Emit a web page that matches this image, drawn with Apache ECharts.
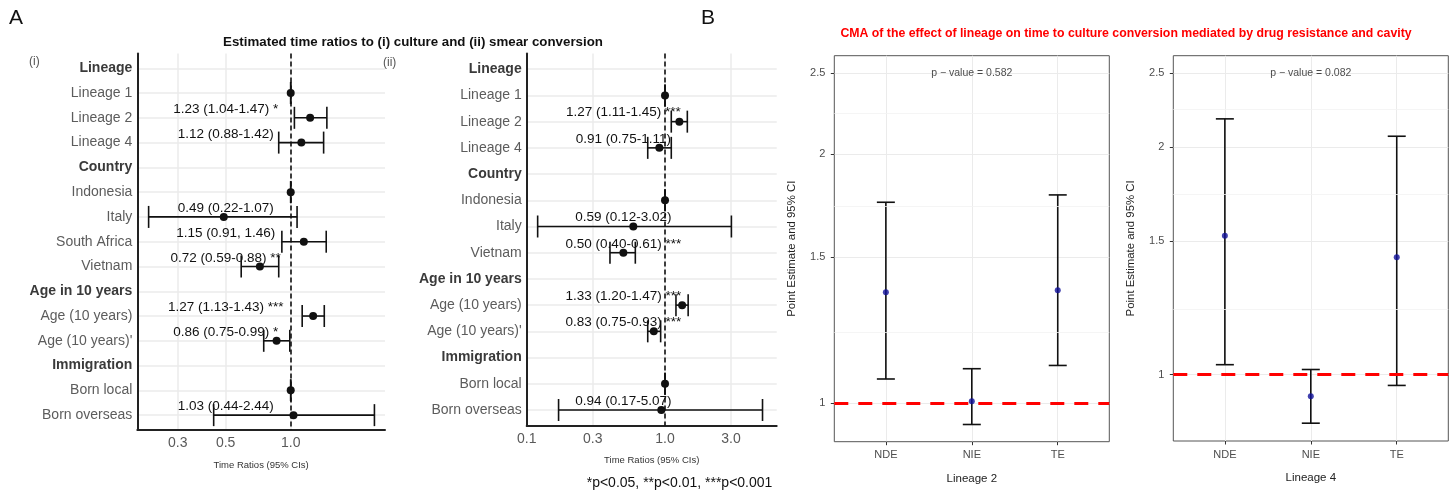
<!DOCTYPE html>
<html>
<head>
<meta charset="utf-8">
<script src="https://cdn.jsdelivr.net/npm/echarts@6/dist/echarts.min.js"></script>
<style>
  html, body { margin: 0; padding: 0; background: #fff; }
  #chart { width: 1455px; height: 492px; }
</style>
</head>
<body>
<div id="chart"></div>
<script>
const FONT = '"Liberation Sans", Arial, sans-serif';

// Panel A (i): time ratios to culture conversion
const rowsCulture = ['Lineage', 'Lineage 1', 'Lineage 2', 'Lineage 4', 'Country', 'Indonesia', 'Italy',
    'South Africa', 'Vietnam', 'Age in 10 years', 'Age (10 years)', "Age (10 years)'", 'Immigration',
    'Born local', 'Born overseas'];
const estCulture = [null, 1, 1.23, 1.12, null, 1, 0.49, 1.15, 0.72, null, 1.27, 0.86, null, 1, 1.03];
const loCulture = [null, 1, 1.04, 0.88, null, 1, 0.22, 0.91, 0.59, null, 1.13, 0.75, null, 1, 0.44];
const hiCulture = [null, 1, 1.47, 1.42, null, 1, 1.07, 1.46, 0.88, null, 1.43, 0.99, null, 1, 2.44];
const textCulture = ['', '', '1.23 (1.04-1.47) *', '1.12 (0.88-1.42)', '', '', '0.49 (0.22-1.07)',
    '1.15 (0.91, 1.46)', '0.72 (0.59-0.88) **', '', '1.27 (1.13-1.43) ***', '0.86 (0.75-0.99) *', '', '',
    '1.03 (0.44-2.44)'];
const ticksCulture = [0.3, 0.5, 1.0];

// Panel A (ii): time ratios to smear conversion
const rowsSmear = ['Lineage', 'Lineage 1', 'Lineage 2', 'Lineage 4', 'Country', 'Indonesia', 'Italy',
    'Vietnam', 'Age in 10 years', 'Age (10 years)', "Age (10 years)'", 'Immigration', 'Born local',
    'Born overseas'];
const estSmear = [null, 1, 1.27, 0.91, null, 1, 0.59, 0.50, null, 1.33, 0.83, null, 1, 0.94];
const loSmear = [null, 1, 1.11, 0.75, null, 1, 0.12, 0.40, null, 1.20, 0.75, null, 1, 0.17];
const hiSmear = [null, 1, 1.45, 1.11, null, 1, 3.02, 0.61, null, 1.47, 0.93, null, 1, 5.07];
const textSmear = ['', '', '1.27 (1.11-1.45) ***', '0.91 (0.75-1.11)', '', '', '0.59 (0.12-3.02)',
    '0.50 (0.40-0.61) ***', '', '1.33 (1.20-1.47) ***', '0.83 (0.75-0.93) ***', '', '', '0.94 (0.17-5.07)'];
const ticksSmear = [0.1, 0.3, 1.0, 3.0];

const headerRows = ['Lineage', 'Country', 'Age in 10 years', 'Immigration'];
const LABEL_AT = 0.5;

// Panel B: causal mediation analysis
const effects = ['NDE', 'NIE', 'TE'];
const estL2 = [1.361, 1.006, 1.369];
const loL2 = [1.070, 0.943, 1.111];
const hiL2 = [1.748, 1.101, 1.784];
const estL4 = [1.526, 0.937, 1.429];
const loL4 = [1.031, 0.863, 0.968];
const hiL4 = [2.177, 1.016, 2.065];
const ticksCMA = [1, 1.5, 2, 2.5];
const pValues = ['0.582', '0.082'];

const chart = echarts.init(document.getElementById('chart'));

const grey = '#ebebeb';

function forestData(est, lo, hi) {
    return est.map((e, i) => (e == null ? null : [i, e, lo[i], hi[i]])).filter(Boolean);
}

function forestItem(texts) {
    return function (params, api) {
        const row = api.value(0);
        const mid = api.coord([api.value(1), row]);
        const a = api.coord([api.value(2), row]);
        const b = api.coord([api.value(3), row]);
        const cap = 11;
        const stroke = { stroke: '#111', lineWidth: 1.6 };
        const children = [
            { type: 'line', shape: { x1: a[0], y1: a[1], x2: b[0], y2: b[1] }, style: stroke },
            { type: 'line', shape: { x1: a[0], y1: a[1] - cap, x2: a[0], y2: a[1] + cap }, style: stroke },
            { type: 'line', shape: { x1: b[0], y1: b[1] - cap, x2: b[0], y2: b[1] + cap }, style: stroke },
            { type: 'circle', shape: { cx: mid[0], cy: mid[1], r: 4 }, style: { fill: '#111' } },
        ];
        const t = texts[row];
        if (t) {
            const p = api.coord([LABEL_AT, row - 0.34]);
            children.push({
                type: 'text', x: p[0], y: p[1],
                style: { text: t, fill: '#111', font: '13.5px ' + FONT, align: 'center', verticalAlign: 'middle' },
            });
        }
        return { type: 'group', children };
    };
}

function cmaItem(params, api) {
    const x = api.value(0);
    const a = api.coord([x, api.value(2)]);
    const b = api.coord([x, api.value(3)]);
    const cap = 9;
    const stroke = { stroke: '#111', lineWidth: 1.6 };
    return {
        type: 'group',
        children: [
            { type: 'line', shape: { x1: a[0], y1: a[1], x2: b[0], y2: b[1] }, style: stroke },
            { type: 'line', shape: { x1: a[0] - cap, y1: a[1], x2: a[0] + cap, y2: a[1] }, style: stroke },
            { type: 'line', shape: { x1: b[0] - cap, y1: b[1], x2: b[0] + cap, y2: b[1] }, style: stroke },
        ],
    };
}

function forestXAxis(gridIndex, min, max, ticks) {
    return {
        type: 'log', gridIndex, min, max,
        axisLine: { show: true, onZero: false, lineStyle: { color: '#222', width: 2 } },
        axisTick: { show: false, customValues: ticks },
        axisLabel: { customValues: ticks, formatter: (v) => Number(v).toFixed(1), fontSize: 14, color: '#595959', margin: 6, fontFamily: FONT },
        splitLine: { show: true, lineStyle: { color: grey, width: 1.5 } },
        name: 'Time Ratios (95% CIs)', nameLocation: 'middle', nameGap: 30,
        nameTextStyle: { fontSize: 9.5, color: '#333', fontFamily: FONT },
    };
}

function forestYAxis(gridIndex, rows) {
    const idx = rows.map((_, i) => i);
    return {
        type: 'value', gridIndex, inverse: true, min: -0.6, max: rows.length - 0.4,
        axisLine: { show: true, onZero: false, lineStyle: { color: '#222', width: 2 } },
        axisTick: { show: false, customValues: idx },
        axisLabel: {
            customValues: idx, margin: 5,
            formatter: (v) => (headerRows.includes(rows[v]) ? '{h|' + rows[v] + '}' : '{n|' + rows[v] + '}'),
            rich: {
                h: { fontSize: 14, fontWeight: 'bold', color: '#3a3a3a', fontFamily: FONT },
                n: { fontSize: 14, color: '#5c5c5c', fontFamily: FONT },
            },
        },
        splitLine: { show: true, lineStyle: { color: grey, width: 1.5 } },
    };
}

function cmaXAxis(gridIndex, name) {
    return {
        type: 'value', gridIndex, min: -0.6, max: 2.6,
        axisLine: { show: false, onZero: false },
        axisTick: { show: true, customValues: [0, 1, 2], length: 3.5, lineStyle: { color: '#333' } },
        axisLabel: { customValues: [0, 1, 2], formatter: (v) => effects[v], fontSize: 11, color: '#4d4d4d', margin: 8, fontFamily: FONT },
        splitLine: { show: true, lineStyle: { color: grey, width: 1 } },
        name, nameLocation: 'middle', nameGap: 31,
        nameTextStyle: { fontSize: 11.5, color: '#222', fontFamily: FONT },
    };
}

function cmaYAxis(gridIndex, min, max) {
    return {
        type: 'log', gridIndex, min, max,
        axisLine: { show: false, onZero: false },
        axisTick: { show: true, customValues: ticksCMA, length: 3.5, lineStyle: { color: '#333' } },
        axisLabel: { customValues: ticksCMA, formatter: (v) => String(Math.round(v * 10) / 10), fontSize: 11, color: '#4d4d4d', margin: 9, fontFamily: FONT },
        splitLine: { show: true, lineStyle: { color: grey, width: 1 } },
        name: 'Point Estimate and 95% CI', nameLocation: 'middle', nameGap: 37, nameRotate: 90,
        nameTextStyle: { fontSize: 11.4, color: '#222', fontFamily: FONT },
    };
}

// minor grid lines sit half way between the labelled breaks on the log scale
const minorCMA = ticksCMA.slice(1).map((t, i) => Math.sqrt(t * ticksCMA[i]));

function cmaSeries(idx, est, lo, hi, p) {
    return [
        {
            type: 'scatter', xAxisIndex: idx, yAxisIndex: idx, z: 1, silent: true,
            symbolSize: 0, data: [[1, 2.5]],
            label: {
                show: true, position: 'inside', formatter: 'p \u2212 value = ' + p,
                fontSize: 10.5, color: '#1a1a1a', fontFamily: FONT,
            },
            markLine: {
                silent: true, symbol: ['none', 'none'], label: { show: false },
                data: minorCMA.map((v) => ({ yAxis: v, lineStyle: { color: '#f3f3f3', width: 0.8, type: 'solid' } }))
                    .concat([{ yAxis: 1, lineStyle: { color: '#ff0000', width: 3, type: [14, 10] } }]),
            },
        },
        {
            type: 'custom', xAxisIndex: idx, yAxisIndex: idx, z: 3,
            dimensions: ['x', 'est', 'lo', 'hi'],
            encode: { x: 0, y: [1, 2, 3] },
            renderItem: cmaItem,
            data: effects.map((_, i) => [i, est[i], lo[i], hi[i]]),
        },
        {
            type: 'scatter', xAxisIndex: idx, yAxisIndex: idx, z: 4,
            symbolSize: 6, itemStyle: { color: '#10109a' },
            data: effects.map((_, i) => [i, est[i]]),
        },
    ];
}

function forestSeries(idx, est, lo, hi, texts) {
    return {
        type: 'custom', xAxisIndex: idx, yAxisIndex: idx, z: 3,
        dimensions: ['row', 'est', 'lo', 'hi'],
        encode: { x: [1, 2, 3], y: 0 },
        renderItem: forestItem(texts),
        data: forestData(est, lo, hi),
        markLine: {
            silent: true, symbol: ['none', 'none'], label: { show: false },
            lineStyle: { color: '#111', width: 1.6, type: [5, 3] },
            data: [{ xAxis: 1 }],
        },
    };
}

const text = (t, x, y, font, fill, align) => ({
    type: 'text', x, y,
    style: { text: t, font: font + ' ' + FONT, fill: fill || '#111', align: align || 'left', verticalAlign: 'middle' },
});

chart.setOption({
    animation: false,
    textStyle: { fontFamily: FONT },
    grid: [
        { left: 137.3, top: 53.4, width: 247.7, height: 376.6, outerBoundsMode: 'none' },
        { left: 526.7, top: 53.5, width: 250, height: 372.2, outerBoundsMode: 'none' },
        { left: 834.3, top: 55.7, width: 275, height: 386, show: true, borderColor: '#555', borderWidth: 1, outerBoundsMode: 'none' },
        { left: 1173.3, top: 55.7, width: 275, height: 385.3, show: true, borderColor: '#555', borderWidth: 1, outerBoundsMode: 'none' },
    ],
    xAxis: [
        forestXAxis(0, 0.195, 2.731, ticksCulture),
        forestXAxis(1, 0.1, 6.42, ticksSmear),
        cmaXAxis(2, 'Lineage 2'),
        cmaXAxis(3, 'Lineage 4'),
    ],
    yAxis: [
        forestYAxis(0, rowsCulture),
        forestYAxis(1, rowsSmear),
        cmaYAxis(2, 0.899, 2.626),
        cmaYAxis(3, 0.8175, 2.638),
    ],
    series: [
        forestSeries(0, estCulture, loCulture, hiCulture, textCulture),
        forestSeries(1, estSmear, loSmear, hiSmear, textSmear),
        ...cmaSeries(2, estL2, loL2, hiL2, pValues[0]),
        ...cmaSeries(3, estL4, loL4, hiL4, pValues[1]),
    ],
    graphic: [
        text('A', 9, 18, '21px', '#111'),
        text('B', 701, 18, '21px', '#111'),
        text('Estimated time ratios to (i) culture and (ii) smear conversion', 413, 42, 'bold 13.3px', '#111', 'center'),
        text('(i)', 29, 62, '12px', '#555'),
        text('(ii)', 383, 63, '12px', '#555'),
        text('*p<0.05, **p<0.01, ***p<0.001', 586.7, 483, '14px', '#111'),
        text('CMA of the effect of lineage on time to culture conversion mediated by drug resistance and cavity', 1126, 34, 'bold 12.3px', '#ff0000', 'center'),
    ],
});

window.addEventListener('resize', chart.resize);
</script>
</body>
</html>
